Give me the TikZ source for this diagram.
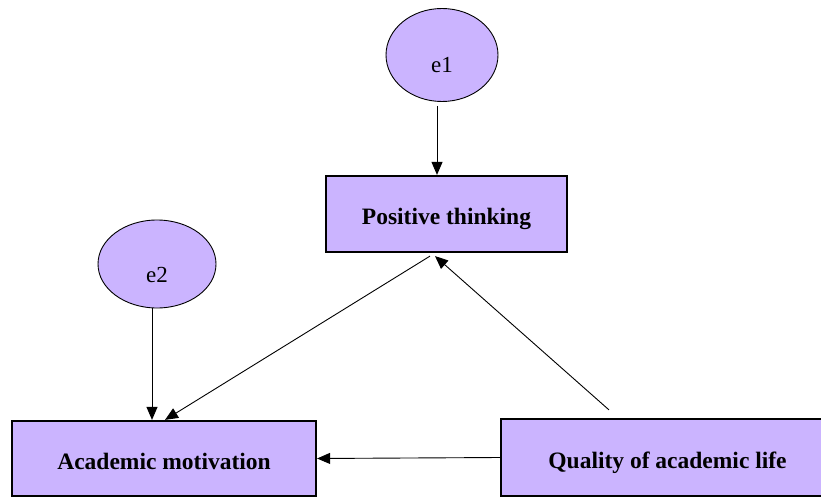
\documentclass[tikz,border=0pt]{standalone}
\usepackage{fontspec}
\setmainfont{Liberation Serif}
\usetikzlibrary{arrows.meta,shapes.geometric}
\definecolor{lav}{HTML}{CBB4FF}
\tikzset{
  var/.style={draw=black, line width=2.2pt, fill=lav, rectangle, inner sep=0pt,
    text height=21pt, text depth=0pt,
    font=\fontsize{23.5}{26}\selectfont\bfseries},
  err/.style={draw=black, line width=0.9pt, fill=lav, ellipse, inner sep=0pt,
    text height=36pt, text depth=0pt,
    font=\fontsize{23}{25}\selectfont},
  path/.style={line width=0.9pt, -{Triangle[length=13pt,width=11pt]}}
}
\begin{document}
\begin{tikzpicture}[x=1pt,y=-1pt]
\useasboundingbox (0,0) rectangle (821,497);
\clip (0,0) rectangle (821,497);
\node[err, minimum width=112pt, minimum height=93pt] (e1) at (442,55) {e1};
\node[err, minimum width=118pt, minimum height=88pt] (e2) at (157,264) {e2};
\node[var, minimum width=241pt, minimum height=76pt] (pt) at (446.5,214) {Positive thinking};
\node[var, minimum width=304pt, minimum height=75pt] (am) at (164,458.5) {Academic motivation};
\node[var, minimum width=333pt, minimum height=77pt] (qa) at (667.5,457.5) {Quality of academic life};
\draw[path, shorten <=4pt] ([xshift=-5pt]e1.south) -- ([xshift=-5pt]e1.south |- pt.north);
\draw[path] ([xshift=-5pt]e2.south) -- ([xshift=-5pt]e2.south |- am.north);
\draw[path] ([xshift=-16.5pt,yshift=-3pt]pt.south) -- ([xshift=1pt]am.north);
\draw[path] ([xshift=-58.5pt,yshift=8pt]qa.north) -- ([xshift=-11.5pt,yshift=-3pt]pt.south);
\draw[path] (qa.west) -- (am.east);
\end{tikzpicture}
\end{document}
